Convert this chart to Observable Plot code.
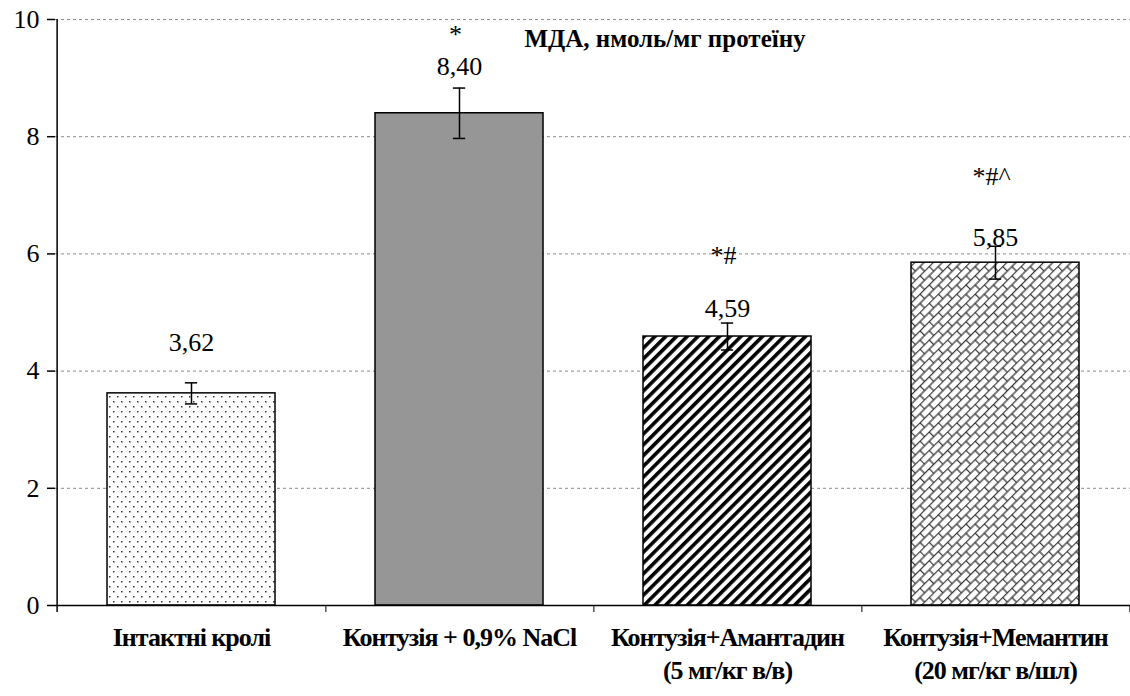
<!DOCTYPE html>
<html>
<head>
<meta charset="utf-8">
<script src="https://cdn.jsdelivr.net/npm/d3@7"></script>
<script src="https://cdn.jsdelivr.net/npm/@observablehq/plot@0.6"></script>
<style>
  html, body { margin: 0; padding: 0; background: #fff; }
  #chart svg { display: block; }
  svg text { font-family: "Liberation Serif", "DejaVu Serif", serif; }
  g[aria-label="title"] text { letter-spacing: -0.5px; }
  g[aria-label="x-axis tick label"] text { letter-spacing: -1px; }
  g[aria-label="value labels"] text { letter-spacing: -0.8px; }
</style>
</head>
<body>
<svg width="0" height="0" style="position:absolute">
  <defs>
    <pattern id="pdots" patternUnits="userSpaceOnUse" width="8" height="10">
      <rect width="8" height="10" fill="#fff"/>
      <rect x="1" y="1" width="1.5" height="1.5" fill="#333"/>
      <rect x="5" y="6" width="1.5" height="1.5" fill="#333"/>
    </pattern>
    <pattern id="pstripes" patternUnits="userSpaceOnUse" width="7.6" height="7.6" patternTransform="rotate(45)">
      <rect width="7.6" height="7.6" fill="#fff"/>
      <rect x="0" y="0" width="3.6" height="7.6" fill="#000"/>
    </pattern>
    <pattern id="pweave" patternUnits="userSpaceOnUse" width="13" height="13" patternTransform="rotate(-45)">
      <rect width="13" height="13" fill="#fff"/>
      <line x1="0" y1="0.5" x2="13" y2="0.5" stroke="#333" stroke-width="1.3"/>
      <line x1="0" y1="7" x2="13" y2="7" stroke="#333" stroke-width="1.3"/>
      <line x1="0.5" y1="0" x2="0.5" y2="7" stroke="#333" stroke-width="1.3"/>
      <line x1="7" y1="7" x2="7" y2="13" stroke="#333" stroke-width="1.3"/>
    </pattern>
  </defs>
</svg>
<div id="chart"></div>
<script>
const categories = ["Інтактні кролі", "Контузія + 0,9% NaCl", "Контузія+Амантадин\n(5 мг/кг в/в)", "Контузія+Мемантин\n(20 мг/кг в/шл)"];
const values = [3.62, 8.40, 4.59, 5.85];
const errors = [0.18, 0.43, 0.23, 0.28];
const valueLabels = ["3,62", "8,40", "4,59", "5,85"];
const labelAt = [4.49, 9.2, 5.07, 6.27];
const signif = ["", "*", "*#", "*#^"];
const signifAt = [0, 9.74, 5.97, 7.32];
const fills = ["url(#pdots)", "#969696", "url(#pstripes)", "url(#pweave)"];
const yTicks = [0, 2, 4, 6, 8, 10];
const gridTicks = [2, 4, 6, 8, 10];
const titleText = "МДА, нмоль/мг протеїну";

const W = 1130, H = 696, mL = 55, mR = 0, mT = 19, mB = 91;
const bw = (W - mL - mR) / categories.length;
const barInset = 50;
const capInset = (bw - 13) / 2;
const serif = "Liberation Serif, DejaVu Serif, serif";

const data = categories.map((c, i) => ({
  cat: c, v: values[i], e: errors[i], lab: valueLabels[i], labY: labelAt[i],
  sig: signif[i], sigY: signifAt[i], fill: fills[i]
}));

const barMarks = data.map(d => Plot.barY([d], {
  x: "cat", y: "v", fill: d.fill, stroke: "#000", strokeWidth: 1.5,
  insetLeft: barInset, insetRight: barInset
}));

const chart = Plot.plot({
  width: W, height: H,
  marginLeft: mL, marginRight: mR, marginTop: mT, marginBottom: mB,
  style: "background:#fff;color:#000;overflow:visible;font-family:'Liberation Serif',serif;",
  x: { domain: categories, padding: 0, label: null },
  y: { domain: [0, 10], label: null },
  marks: [
    Plot.gridY({ ticks: gridTicks, stroke: "#8a8a8a", strokeOpacity: 1, strokeDasharray: "3,3" }),
    ...barMarks,
    Plot.ruleX(data, { x: "cat", y1: d => d.v - d.e, y2: d => d.v + d.e, stroke: "#000", strokeWidth: 1.5 }),
    Plot.tickY(data, { x: "cat", y: d => d.v + d.e, stroke: "#000", strokeWidth: 1.5, insetLeft: capInset, insetRight: capInset }),
    Plot.tickY(data, { x: "cat", y: d => d.v - d.e, stroke: "#000", strokeWidth: 1.5, insetLeft: capInset, insetRight: capInset }),
    Plot.ruleY([0], { stroke: "#000", strokeWidth: 1.5 }),
    Plot.ruleX([categories[0]], { dx: -bw / 2, y1: -0.12, y2: 10, stroke: "#000", strokeWidth: 1.5 }),
    Plot.ruleX(categories, { dx: bw / 2, y1: 0, y2: -0.12, stroke: "#000", strokeWidth: 1 }),
    Plot.axisY({ ticks: yTicks, tickSize: 8, tickPadding: 8, fontSize: 26, fontFamily: serif, tickFormat: d => String(d), strokeWidth: 1.5 }),
    Plot.axisX({ tickSize: 0, tickPadding: 17, fontSize: 26, fontFamily: serif, fontWeight: "bold", lineHeight: 1.28 }),
    Plot.text(data, { x: "cat", y: "labY", text: "lab", fontSize: 26, fontFamily: serif, ariaLabel: "value labels" }),
    Plot.text(data.filter(d => d.sig), { x: "cat", y: "sigY", text: "sig", fontSize: 26, fontFamily: serif, dx: -4 }),
    Plot.text([titleText], { frameAnchor: "top", text: d => d, dx: 72, dy: 10, fontSize: 25, fontFamily: serif, fontWeight: "bold", ariaLabel: "title" })
  ]
});
document.getElementById("chart").appendChild(chart);
</script>
</body>
</html>
